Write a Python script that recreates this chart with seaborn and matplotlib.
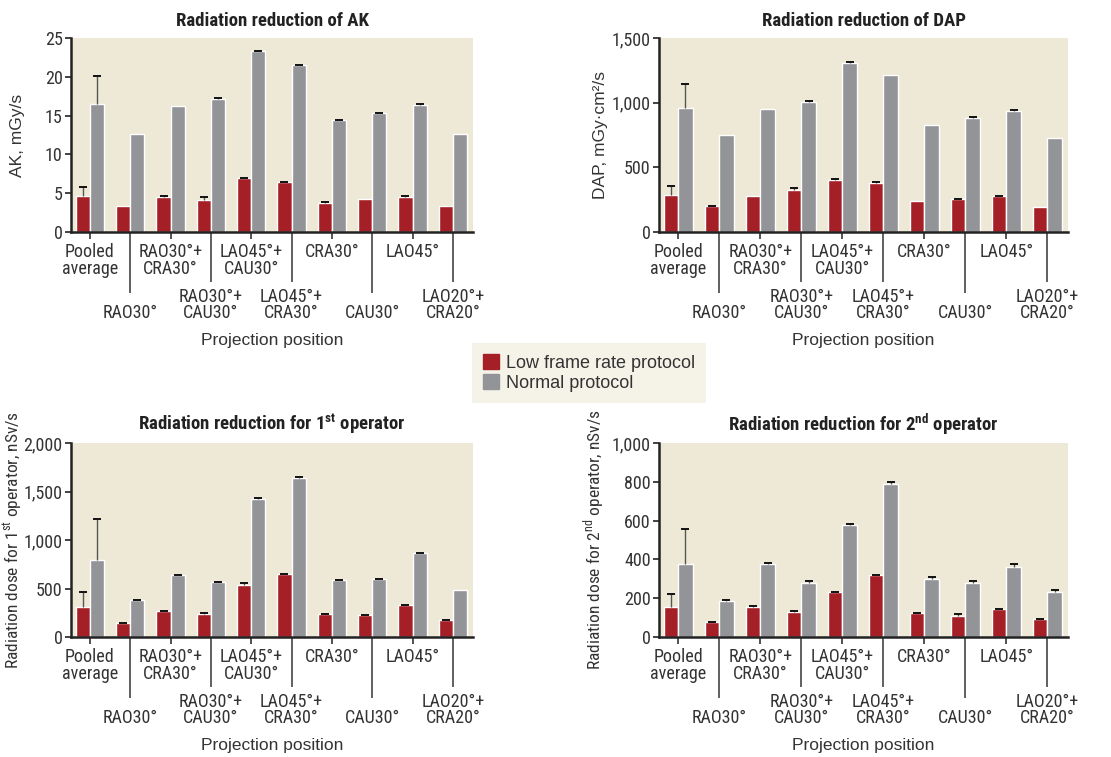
import numpy as np
import pandas as pd
import seaborn as sns
import matplotlib.pyplot as plt
from matplotlib.ticker import StrMethodFormatter

positions = ["Pooled\naverage", "RAO30°", "RAO30°+\nCRA30°", "RAO30°+\nCAU30°",
             "LAO45°+\nCAU30°", "LAO45°+\nCRA30°", "CRA30°", "CAU30°",
             "LAO45°", "LAO20°+\nCRA20°"]
protocols = ["Low frame rate protocol", "Normal protocol"]

ak_low = [4.6, 3.3, 4.5, 4.1, 6.9, 6.4, 3.8, 4.2, 4.5, 3.3]
ak_low_err = [1.2, 0, 0.08, 0.45, 0.08, 0.08, 0.08, 0, 0.08, 0]
ak_norm = [16.5, 12.6, 16.3, 17.2, 23.3, 21.5, 14.4, 15.3, 16.4, 12.6]
ak_norm_err = [3.6, 0, 0, 0.08, 0.08, 0.08, 0.08, 0.08, 0.08, 0]

dap_low = [284, 199, 277, 323, 401, 378, 238, 253, 277, 191]
dap_low_err = [68, 5, 0, 21, 5, 5, 0, 5, 5, 0]
dap_norm = [960, 750, 952, 1006, 1309, 1215, 828, 884, 936, 727]
dap_norm_err = [184, 0, 0, 5, 5, 0, 0, 5, 5, 0]

op1_low = [307, 141, 266, 234, 534, 648, 234, 224, 328, 172]
op1_low_err = [159, 5, 6, 18, 18, 5, 5, 5, 5, 5]
op1_norm = [793, 379, 638, 566, 1424, 1641, 586, 597, 866, 483]
op1_norm_err = [421, 5, 5, 5, 5, 5, 5, 5, 5, 0]

op2_low = [153, 76, 153, 128, 231, 319, 122, 107, 143, 91]
op2_low_err = [71, 3, 9, 8, 3, 3, 3, 9, 3, 3]
op2_norm = [376, 184, 376, 279, 578, 790, 298, 278, 360, 231]
op2_norm_err = [179, 9, 8, 9, 3, 10, 9, 9, 16, 9]

RED = "#a51f26"
GRAY = "#939498"
BG = "#ede9d6"
NARROW = ["Roboto Condensed", "Archivo Narrow", "Barlow Semi Condensed", "DejaVu Sans"]
WIDE = ["Liberation Sans", "DejaVu Sans"]

sns.set_theme(style="ticks")
plt.rcParams["font.family"] = NARROW
plt.rcParams["mathtext.fontset"] = "custom"
plt.rcParams["mathtext.rm"] = "Roboto Condensed"
plt.rcParams["mathtext.bf"] = "Roboto Condensed:bold"

fig = plt.figure(figsize=(11.11, 7.57), dpi=100)

panels = [
    dict(rect=[71, 38, 402, 194], low=ak_low, lerr=ak_low_err, norm=ak_norm, nerr=ak_norm_err,
         ymax=25, step=5, title="Radiation reduction of AK", ylabel="AK, mGy/s",
         yfont=WIDE, ysize=12.5, lx=18),
    dict(rect=[659, 38, 409, 194], low=dap_low, lerr=dap_low_err, norm=dap_norm, nerr=dap_norm_err,
         ymax=1500, step=500, title="Radiation reduction of DAP", ylabel="DAP, mGy·cm²/s",
         yfont=WIDE, ysize=12.5, lx=600),
    dict(rect=[71, 443, 402, 194], low=op1_low, lerr=op1_low_err, norm=op1_norm, nerr=op1_norm_err,
         ymax=2000, step=500, title=r"Radiation reduction for 1$^{\mathbf{st}}$ operator",
         ylabel=r"Radiation dose for 1$^{\mathrm{st}}$ operator, nSv/s",
         yfont=NARROW, ysize=12.5, lx=13),
    dict(rect=[659, 443, 409, 194], low=op2_low, lerr=op2_low_err, norm=op2_norm, nerr=op2_norm_err,
         ymax=1000, step=200, title=r"Radiation reduction for 2$^{\mathbf{nd}}$ operator",
         ylabel=r"Radiation dose for 2$^{\mathrm{nd}}$ operator, nSv/s",
         yfont=NARROW, ysize=12.5, lx=594),
]

W, H = 1111, 757
for p in panels:
    x0, y0, w, h = p["rect"]
    ax = fig.add_axes([x0 / W, 1 - (y0 + h) / H, w / W, h / H])
    df = pd.DataFrame({
        "position": positions * 2,
        "protocol": [protocols[0]] * 10 + [protocols[1]] * 10,
        "value": p["low"] + p["norm"],
    })
    sns.barplot(data=df, x="position", y="value", hue="protocol", palette=[RED, GRAY],
                width=0.7, errorbar=None, saturation=1, legend=False, ax=ax)

    # one-sided error bars on top of the bars
    for cont, errs in zip(ax.containers, [p["lerr"], p["nerr"]]):
        for bar, e in zip(cont, errs):
            if e <= 0:
                continue
            xc = bar.get_x() + bar.get_width() / 2
            top = bar.get_height()
            ax.vlines(xc, top, top + e, color="#555555", lw=1, zorder=3)
            ax.plot([xc], [top + e], marker="_", ms=5.5, mew=1.4, color="#111111", zorder=4)

    ax.set_facecolor(BG)
    ax.set_xlim(-0.47, 9.5)
    ax.set_ylim(0, p["ymax"])
    ax.set_yticks(np.arange(0, p["ymax"] + 1, p["step"]))
    ax.yaxis.set_major_formatter(StrMethodFormatter("{x:,.0f}"))
    for s in ["top", "right"]:
        ax.spines[s].set_visible(False)
    for s in ["left", "bottom"]:
        ax.spines[s].set_linewidth(1.8)
        ax.spines[s].set_color("#222222")
    ax.tick_params(axis="y", length=4, width=1.2, color="#222222", labelsize=13,
                   labelcolor="#333333", pad=2)

    # alternating category labels: short ticks for even, long lines for odd
    ax.set_xticks(range(0, 10, 2))
    ax.set_xticklabels([positions[i] for i in range(0, 10, 2)])
    ax.set_xticks(range(1, 10, 2), minor=True)
    odd = [positions[i] if "\n" in positions[i] else "\n" + positions[i] for i in range(1, 10, 2)]
    ax.set_xticklabels(odd, minor=True)
    ax.tick_params(axis="x", which="major", length=5, width=1.2, color="#333333", pad=3,
                   labelsize=13, labelcolor="#333333")
    ax.tick_params(axis="x", which="minor", length=36, width=1.2, color="#444444", pad=4,
                   labelsize=13, labelcolor="#333333")
    for lab in ax.get_xticklabels() + ax.get_xticklabels(minor=True):
        lab.set_linespacing(0.92)
    for i, t in enumerate(ax.xaxis.get_minor_ticks()):
        if "\n" not in positions[2 * i + 1]:
            t.tick1line.set_markersize(44)

    ax.set_xlabel("Projection position", fontsize=12.5, family=WIDE, color="#333333")
    ax.xaxis.set_label_coords(0.5, -0.52)
    ax.xaxis.label.set_verticalalignment("top")
    ax.set_ylabel(p["ylabel"], fontsize=p["ysize"], family=p["yfont"], color="#333333")
    ax.yaxis.label.set_verticalalignment("center")
    ax.yaxis.set_label_coords((p["lx"] - x0) / w, 0.5)
    ax.set_title(p["title"], fontsize=13.5, fontweight="bold", color="#222222", pad=9)

handles = [plt.Rectangle((0, 0), 1, 1, color=RED), plt.Rectangle((0, 0), 1, 1, color=GRAY)]
leg = fig.legend(handles, protocols, loc="center", bbox_to_anchor=(589 / W, 1 - 373 / H),
                 frameon=True, facecolor="#f3f0e3", edgecolor="none", fancybox=False,
                 handlelength=0.9, handleheight=0.9, handletextpad=0.4, labelspacing=0.15,
                 borderpad=0.6, prop={"family": WIDE, "size": 13})
for t in leg.get_texts():
    t.set_color("#333333")

fig.savefig("out.png", dpi=100)
